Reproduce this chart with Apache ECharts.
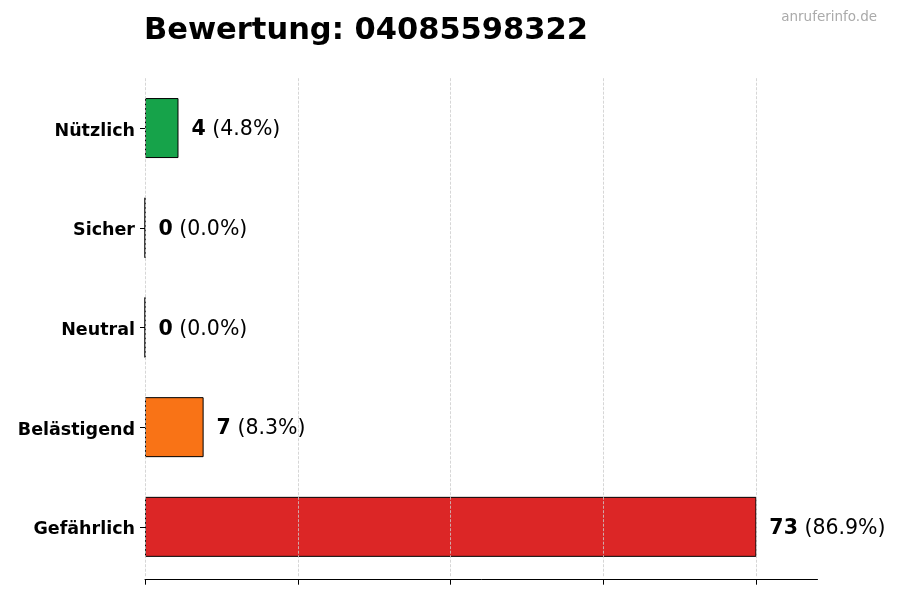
<!DOCTYPE html>
<html>
<head>
<meta charset="utf-8">
<script src="https://cdn.jsdelivr.net/npm/echarts@6/dist/echarts.min.js"></script>
<style>
  html, body { margin: 0; padding: 0; background: #fff; }
  #chart { width: 900px; height: 600px; }
</style>
</head>
<body>
<div id="chart"></div>
<script>
// Daten
const categories = ['Nützlich', 'Sicher', 'Neutral', 'Belästigend', 'Gefährlich'];
const counts = [4, 0, 0, 7, 73];
const barColors = ['#16a34a', '#3b82f6', '#9ca3af', '#f97316', '#dc2626'];
const tickValues = [0, 18.25, 36.5, 54.75, 73];
const xMax = 80.3;

const total = counts.reduce((a, b) => a + b, 0);

const font = 'DejaVu Sans';

let chart = echarts.init(document.getElementById('chart'), null, { renderer: 'canvas' });

let option = {
    animation: false,
    backgroundColor: '#fff',
    textStyle: { fontFamily: font },
    title: {
        text: 'Bewertung: 04085598322',
        left: 139,
        top: 11,
        textStyle: { fontFamily: font, fontSize: 30.5, fontWeight: 'bold', color: '#000' }
    },
    graphic: [{
        type: 'text',
        right: 23,
        top: 10,
        style: { text: 'anruferinfo.de', fontFamily: font, fontSize: 13.5, fill: '#aaaaaa' }
    }],
    grid: { left: 145, right: 82.5, top: 78.2, height: 498.5, containLabel: false },
    xAxis: {
        type: 'value',
        min: 0,
        max: xMax,
        offset: 3,
        axisLine: { show: true, lineStyle: { color: '#000', width: 1 } },
        axisTick: { show: true, length: 5, customValues: tickValues, lineStyle: { color: '#000', width: 1 } },
        axisLabel: { show: false },
        splitLine: { show: false }
    },
    yAxis: {
        type: 'category',
        inverse: true,
        data: categories,
        axisLine: { show: false },
        axisTick: { show: true, alignWithLabel: true, length: 5, lineStyle: { color: '#000' } },
        axisLabel: {
            margin: 10,
            formatter: v => '{c|' + v + '}',
            rich: {
                c: { padding: [6, 0, 0, 0], fontFamily: font, fontSize: 17.5, fontWeight: 'bold', color: '#000' }
            }
        }
    },
    series: [{
        type: 'bar',
        barWidth: 60,
        data: counts.map((v, i) => ({
            value: v,
            itemStyle: { color: barColors[i] }
        })),
        itemStyle: { borderColor: '#000', borderWidth: 1 },
        label: {
            show: true,
            position: 'right',
            distance: 13,
            padding: [4, 0, 0, 0],
            formatter: p => '{b|' + p.value + '}{n| (' + (p.value / total * 100).toFixed(1) + '%)}',
            rich: {
                b: { fontFamily: font, fontSize: 20.5, fontWeight: 'bold', color: '#000' },
                n: { fontFamily: font, fontSize: 20.5, color: '#000' }
            }
        },
        markLine: {
            silent: true,
            symbol: 'none',
            z: 5,
            label: { show: false },
            lineStyle: { color: '#cccccc', type: [3, 1.5], width: 0.8 },
            data: tickValues.map(v => ({ xAxis: v }))
        }
    }]
};

chart.setOption(option);
</script>
</body>
</html>
